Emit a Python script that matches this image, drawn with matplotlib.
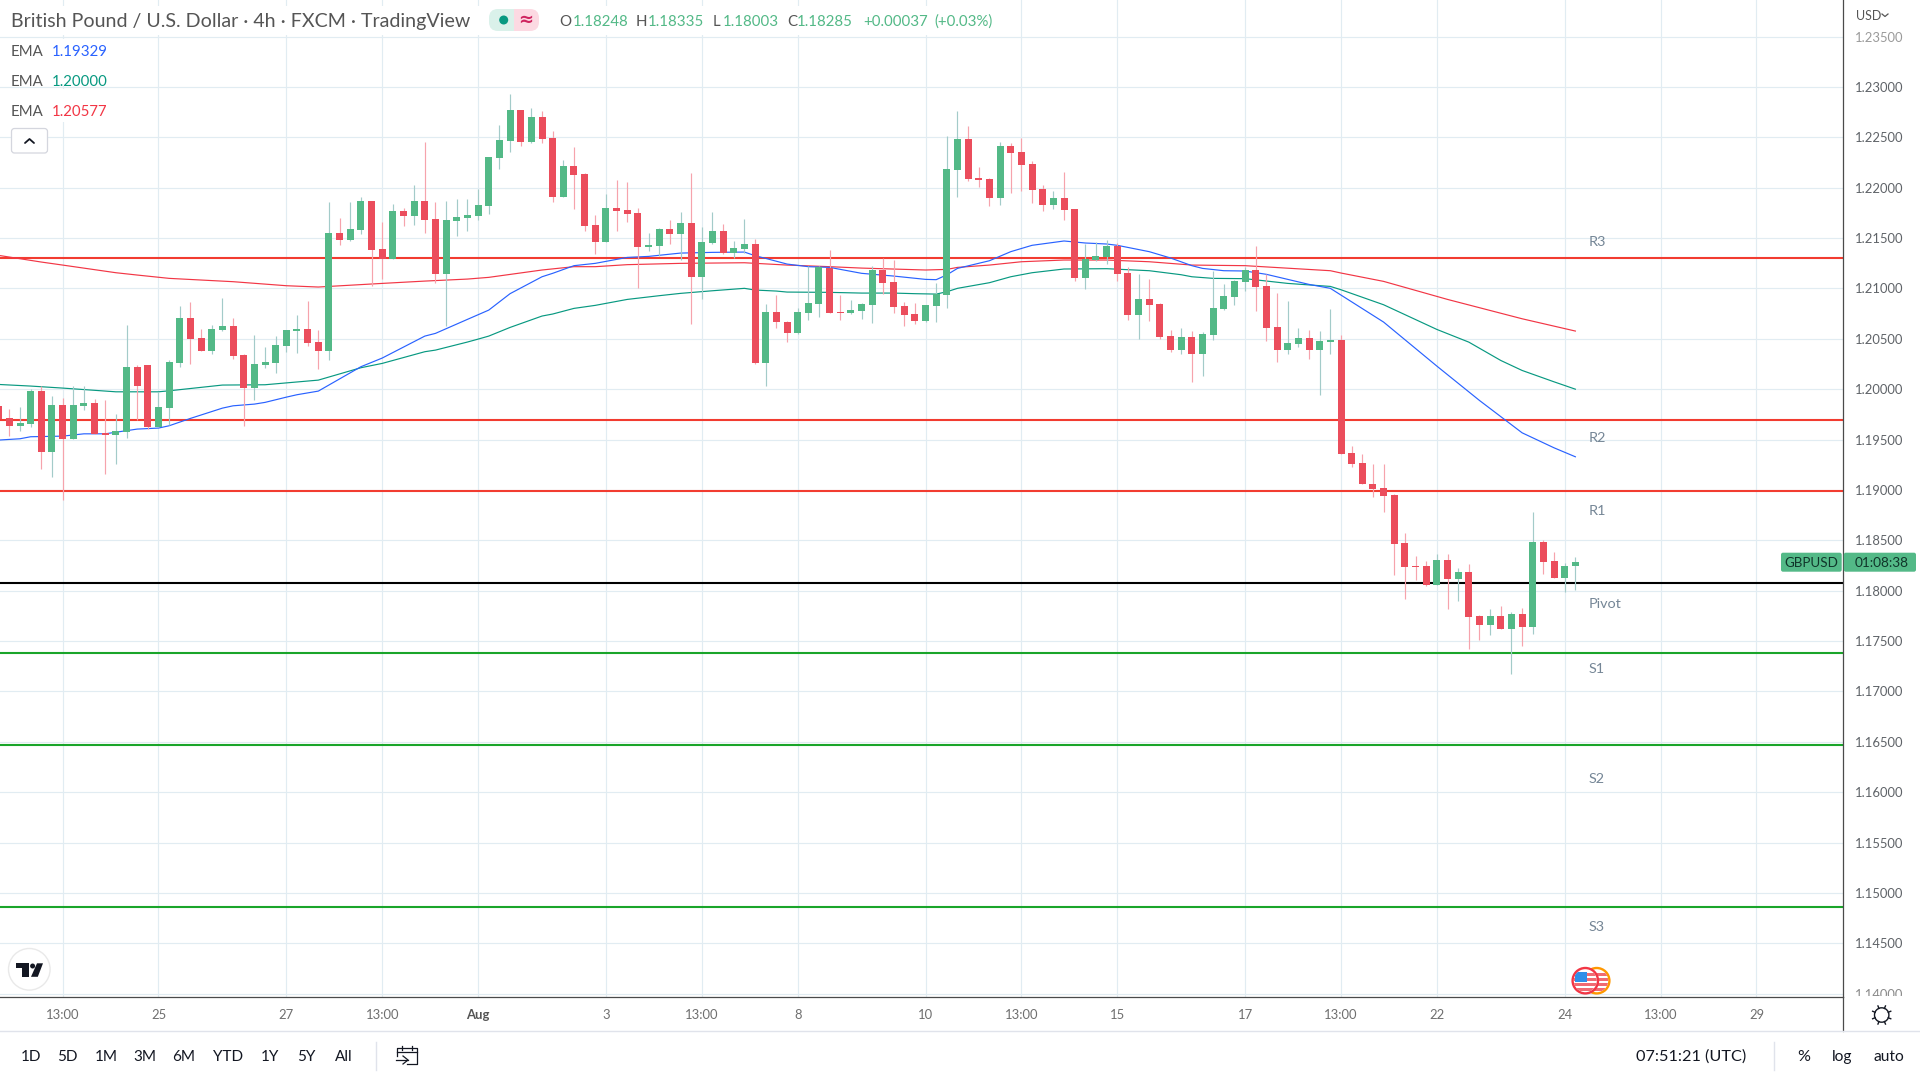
import numpy as np
import matplotlib
matplotlib.use("Agg")
import matplotlib.pyplot as plt
from matplotlib.patches import Rectangle, Circle, FancyBboxPatch, Polygon
from matplotlib.transforms import Bbox

plt.rcParams['font.family'] = ['Lato', 'DejaVu Sans']

opens = [1.19832,1.19713,1.19634,1.19653,1.19981,1.19375,1.19842,1.19504,1.19832,1.19862,1.19564,1.19544,1.19574,1.20219,1.20239,1.19624,1.19812,1.20259,1.20706,1.20507,
1.20378,1.20587,1.20627,1.20339,1.20011,1.20239,1.20259,1.20428,1.20577,1.20597,1.20468,1.20378,1.21550,1.21481,1.21580,1.21868,1.21391,1.21292,1.21768,1.21719,
1.21868,1.21689,1.21143,1.21669,1.21699,1.21719,1.21818,1.22295,1.22464,1.22771,1.22454,1.22702,1.22493,1.21908,1.22215,1.22136,1.21629,1.21461,1.21798,1.21778,
1.21749,1.21411,1.21421,1.21590,1.21540,1.21649,1.21113,1.21451,1.21570,1.21351,1.21391,1.21441,1.20259,1.20766,1.20666,1.20557,1.20756,1.20845,1.21206,1.20766,
1.20756,1.20775,1.20835,1.21183,1.21063,1.20825,1.20746,1.20676,1.20825,1.20934,1.22176,1.22483,1.22096,1.22086,1.21898,1.22414,1.22354,1.22235,1.21987,1.21828,
1.21898,1.21788,1.21103,1.21282,1.21312,1.21421,1.21153,1.20736,1.20895,1.20845,1.20527,1.20388,1.20517,1.20348,1.20537,1.20795,1.20914,1.21063,1.21183,1.21024,
1.20617,1.20388,1.20448,1.20507,1.20388,1.20468,1.20493,1.19371,1.19272,1.19063,1.19024,1.18954,1.18478,1.18249,1.18249,1.18061,1.18309,1.18120,1.18190,1.17753,
1.17663,1.17753,1.17624,1.17773,1.17643,1.18488,1.18299,1.18130,1.18248]
closes = [1.19700,1.19634,1.19663,1.19981,1.19375,1.19842,1.19504,1.19842,1.19862,1.19554,1.19544,1.19584,1.20219,1.20031,1.19624,1.19822,1.20269,1.20706,1.20497,1.20378,
1.20597,1.20627,1.20329,1.20011,1.20249,1.20269,1.20438,1.20587,1.20597,1.20458,1.20378,1.21550,1.21481,1.21590,1.21868,1.21381,1.21292,1.21768,1.21719,1.21868,
1.21679,1.21143,1.21679,1.21709,1.21729,1.21828,1.22305,1.22474,1.22771,1.22454,1.22702,1.22483,1.21908,1.22215,1.22126,1.21620,1.21461,1.21798,1.21768,1.21739,
1.21411,1.21431,1.21590,1.21540,1.21649,1.21113,1.21461,1.21570,1.21351,1.21401,1.21441,1.20259,1.20766,1.20666,1.20557,1.20766,1.20855,1.21212,1.20756,1.20756,
1.20785,1.20845,1.21183,1.21054,1.20815,1.20736,1.20676,1.20835,1.20944,1.22186,1.22483,1.22086,1.22076,1.21898,1.22414,1.22344,1.22225,1.21977,1.21828,1.21898,
1.21778,1.21103,1.21292,1.21322,1.21421,1.21143,1.20736,1.20895,1.20835,1.20517,1.20388,1.20517,1.20348,1.20547,1.20805,1.20924,1.21073,1.21183,1.21014,1.20607,
1.20388,1.20458,1.20507,1.20388,1.20478,1.20487,1.19361,1.19262,1.19054,1.19014,1.18944,1.18468,1.18239,1.18239,1.18061,1.18309,1.18120,1.18190,1.17743,1.17663,
1.17753,1.17624,1.17773,1.17643,1.18488,1.18289,1.18130,1.18249,1.18285]
highs = [1.19875,1.19802,1.19822,1.19998,1.20031,1.19931,1.19912,1.20031,1.20031,1.19902,1.19892,1.19753,1.20636,1.20239,1.20239,1.19971,1.20289,1.20825,1.20865,1.20597,
1.20636,1.20905,1.20706,1.20348,1.20537,1.20418,1.20527,1.20587,1.20736,1.20875,1.20587,1.21858,1.21699,1.21858,1.21908,1.21868,1.21659,1.21838,1.21798,1.22027,
1.22454,1.21858,1.21868,1.21888,1.21888,1.21987,1.22305,1.22622,1.22930,1.22771,1.22791,1.22761,1.22563,1.22275,1.22404,1.22146,1.21729,1.21937,1.22076,1.22056,
1.21798,1.21550,1.21600,1.21679,1.21759,1.22146,1.21610,1.21759,1.21639,1.21471,1.21689,1.21490,1.20845,1.20934,1.20676,1.20805,1.21222,1.21222,1.21381,1.20934,
1.20885,1.20855,1.21222,1.21302,1.21282,1.20865,1.20855,1.20835,1.21054,1.22513,1.22761,1.22613,1.22205,1.22096,1.22454,1.22444,1.22493,1.22265,1.22027,1.21967,
1.22156,1.21788,1.21441,1.21461,1.21481,1.21447,1.21212,1.21143,1.21093,1.20855,1.20587,1.20607,1.20577,1.20567,1.21173,1.21044,1.21083,1.21212,1.21421,1.21143,
1.20954,1.20875,1.20607,1.20587,1.20577,1.20795,1.20533,1.19441,1.19361,1.19262,1.19262,1.18964,1.18577,1.18348,1.18299,1.18368,1.18368,1.18229,1.18269,1.17763,
1.17822,1.17852,1.17793,1.17832,1.18785,1.18508,1.18388,1.18279,1.18335]
lows = [1.19660,1.19534,1.19584,1.19624,1.19207,1.19127,1.18902,1.19504,1.19792,1.19554,1.19157,1.19256,1.19514,1.19693,1.19604,1.19624,1.19643,1.20219,1.20249,1.20378,
1.20348,1.20577,1.20299,1.19634,1.19892,1.20209,1.20160,1.20368,1.20358,1.20428,1.20200,1.20289,1.21431,1.21471,1.21540,1.21024,1.21093,1.21292,1.21620,1.21629,
1.21550,1.21054,1.20627,1.21520,1.21570,1.21679,1.21739,1.22186,1.22354,1.22414,1.22444,1.22444,1.21858,1.21908,1.21788,1.21570,1.21341,1.21461,1.21570,1.21659,
1.21004,1.21371,1.21322,1.21441,1.21282,1.20646,1.20895,1.21441,1.21341,1.21302,1.21351,1.20249,1.20031,1.20607,1.20468,1.20547,1.20686,1.20716,1.20756,1.20686,
1.20746,1.20696,1.20656,1.20944,1.20756,1.20627,1.20646,1.20663,1.20666,1.20805,1.21908,1.22066,1.22007,1.21818,1.21828,1.21947,1.21967,1.21848,1.21768,1.21788,
1.21679,1.21073,1.20994,1.21272,1.21242,1.21073,1.20686,1.20497,1.20676,1.20497,1.20368,1.20348,1.20070,1.20130,1.20487,1.20785,1.20835,1.20974,1.20775,1.20478,
1.20269,1.20348,1.20418,1.20299,1.19941,1.20348,1.19361,1.19232,1.19054,1.18934,1.18785,1.18160,1.17922,1.18110,1.18051,1.18061,1.17822,1.17902,1.17425,1.17514,
1.17564,1.17624,1.17177,1.17455,1.17574,1.18170,1.18130,1.17991,1.18003]

ema_blue_bars = [0,2,3,6,8,10,13,15,16,18,21,22,24,25,27,28,30,34,36,40,41,44,46,48,51,52,54,56,59,61,64,67,70,71,72,74,76,78,81,84,87,88,89,90,93,95,97,100,102,104,105,108,110,112,113,115,117,119,123,125,126,130,135,139,143,146,148]
ema_blue = [1.19495,1.19508,1.19528,1.19534,1.19557,1.19557,1.19604,1.19614,1.19637,1.19710,1.19812,1.19835,1.19852,1.19869,1.19921,1.19945,1.19981,1.20223,1.20309,1.20527,1.20554,1.20693,1.20785,1.20948,1.21116,1.21150,1.21226,1.21249,1.21308,1.21318,1.21351,1.21358,1.21361,1.21325,1.21298,1.21242,1.21216,1.21209,1.21150,1.21123,1.21090,1.21087,1.21135,1.21199,1.21275,1.21365,1.21428,1.21471,1.21451,1.21441,1.21428,1.21365,1.21302,1.21226,1.21199,1.21176,1.21173,1.21140,1.21040,1.21001,1.20934,1.20666,1.20229,1.19888,1.19567,1.19418,1.19329]
ema_green_bars = [0,3,6,11,15,16,21,25,30,34,36,40,41,44,45,46,48,51,52,54,56,59,62,64,67,70,71,73,74,78,81,84,86,88,89,90,93,95,97,100,104,108,111,112,114,117,121,125,126,130,135,138,141,143,146,148]
ema_green = [1.20047,1.20031,1.20011,1.19974,1.19974,1.19984,1.20041,1.20044,1.20090,1.20213,1.20256,1.20372,1.20388,1.20468,1.20497,1.20527,1.20613,1.20726,1.20746,1.20802,1.20832,1.20891,1.20928,1.20951,1.20977,1.21001,1.20984,1.20974,1.20964,1.20961,1.20954,1.20954,1.20948,1.20944,1.20967,1.21001,1.21057,1.21116,1.21156,1.21193,1.21196,1.21176,1.21136,1.21116,1.21100,1.21097,1.21050,1.21020,1.20987,1.20838,1.20593,1.20467,1.20285,1.20186,1.20073,1.20000]
ema_red_bars = [0,4,6,11,13,16,22,27,30,36,40,44,46,51,54,56,59,64,70,74,78,81,87,89,90,93,96,100,104,108,112,117,125,126,130,136,143,148]
ema_red = [1.21328,1.21262,1.21232,1.21156,1.21133,1.21100,1.21067,1.21027,1.21014,1.21050,1.21073,1.21093,1.21110,1.21183,1.21216,1.21216,1.21236,1.21249,1.21255,1.21232,1.21216,1.21202,1.21183,1.21189,1.21209,1.21232,1.21265,1.21282,1.21282,1.21265,1.21232,1.21226,1.21176,1.21153,1.21070,1.20891,1.20699,1.20577]

pivot_names = ['R3','R2','R1','Pivot','S1','S2','S3']
pivot_levels = [1.21302,1.19693,1.18988,1.18080,1.17385,1.16464,1.14857]
pivot_colors = ['#f23c30','#f23c30','#f23c30','#000000','#1aa52a','#1aa52a','#1aa52a']
price_ticks = [1.235,1.23,1.225,1.22,1.215,1.21,1.205,1.20,1.195,1.19,1.185,1.18,1.175,1.17,1.165,1.16,1.155,1.15,1.145,1.14]
time_ticks = [6,15,27,36,45,57,66,75,87,96,105,117,126,135,147,156,165]
time_labels = ['13:00','25','27','13:00','Aug','3','13:00','8','10','13:00','15','17','13:00','22','24','13:00','29']

W, H = 1920, 1080
AXR, AXB = 1843.3, 997.3
fig = plt.figure(figsize=(19.2, 10.8), dpi=100, facecolor='white')
ax = fig.add_axes([0, 1-AXB/H, AXR/W, AXB/H])
ax.set_xlim(0.122, 173.15)
ax.set_ylim(1.13964, 1.23863)

GRID = '#e1ecf2'
ax.grid(True, color=GRID, lw=0.85, zorder=0)
ax.set_axisbelow(True)
for s in ('top','left'):
    ax.spines[s].set_visible(False)
for s in ('bottom','right'):
    ax.spines[s].set_color('#4a4a4a')
    ax.spines[s].set_linewidth(0.9)

ax.yaxis.tick_right()
ax.set_yticks(price_ticks)
ax.set_yticklabels([f'{p:.5f}' for p in price_ticks])
ax.tick_params(axis='y', length=0, pad=8.5, labelsize=9.4, labelcolor='#5f6368')
ax.set_xticks(time_ticks)
ax.set_xticklabels(time_labels)
ax.tick_params(axis='x', length=0, pad=8.6, labelsize=9.4, labelcolor='#6f6f6f')
clip = Bbox([[AXR, H-AXB+1], [W, H]])
for t in ax.get_yticklabels():
    t.set_clip_box(clip)
    t.set_clip_on(True)
ax.get_yticklabels()[0].set_color('#9a9a9a')
ax.get_yticklabels()[-1].set_color('#8a8a8a')
for t in ax.get_xticklabels():
    if t.get_text() == 'Aug':
        t.set_fontweight('bold')
        t.set_color('#555555')

# horizontal pivot levels
for lvl, col in zip(pivot_levels, pivot_colors):
    ax.axhline(lvl, color=col, lw=1.5, zorder=2)

# EMAs
ax.plot(ema_red_bars, ema_red, color='#f23645', lw=0.85, zorder=2.2)
ax.plot(ema_green_bars, ema_green, color='#089981', lw=0.85, zorder=2.2)
ax.plot(ema_blue_bars, ema_blue, color='#2962ff', lw=0.85, zorder=2.2)

# candles
x = np.arange(len(opens))
o, h, l, c = map(np.array, (opens, highs, lows, closes))
up = c >= o
ax.vlines(x[up], l[up], h[up], color='#a3cbc9', lw=0.85, zorder=3)
ax.vlines(x[~up], l[~up], h[~up], color='#f6a3ac', lw=0.85, zorder=3)
bw = 7/10.653
ax.bar(x[up], (c-o)[up], bottom=o[up], width=bw, color='#53b987', lw=0, zorder=3.2)
ax.bar(x[~up], (o-c)[~up], bottom=c[~up], width=bw, color='#eb4d5c', lw=0, zorder=3.2)

# pixel overlay for the surrounding interface
ov = fig.add_axes([0, 0, 1, 1], zorder=5)
ov.set_xlim(0, W); ov.set_ylim(H, 0); ov.axis('off')
ov.patch.set_visible(False)

TXT = '#555555'
DARK = '#131722'
GR = '#53b987'

ov.add_patch(Rectangle((7, 6), 1000, 29, fc='white', ec='none'))
ov.add_patch(Rectangle((7, 39), 109, 47, fc='white', ec='none'))
ov.add_patch(Rectangle((7, 89), 109, 33, fc='white', ec='none'))

ov.text(11, 22, 'British Pound / U.S. Dollar · 4h · FXCM · TradingView', fontsize=14.1, color=TXT, va='center', ha='left')
ov.add_patch(FancyBboxPatch((500, 9), 39, 22, boxstyle='round,pad=0,rounding_size=9', fc='#fcd9e2', ec='none'))
ov.add_patch(FancyBboxPatch((489, 9), 25, 22, boxstyle='round,pad=0,rounding_size=9', fc='#daf1ea', ec='none'))
ov.add_patch(Rectangle((500, 9), 14, 22, fc='#daf1ea', ec='none'))
ov.add_patch(Circle((503.7, 20), 4.5, fc='#089981', ec='none'))
ov.text(525.8, 20, '≈', fontsize=13, color='#cf2560', family='DejaVu Sans', weight='bold', ha='center', va='center')

for tx, s, col in [(559,'O',TXT),(572.5,'1.18248',GR),(636,'H',TXT),(648,'1.18335',GR),(713,'L',TXT),(723,'1.18003',GR),
                   (787,'C',TXT),(797,'1.18285',GR),(863,'+0.00037',GR),(934,'(+0.03%)',GR)]:
    ov.text(tx, 22, s, fontsize=10.8, color=col, va='center', ha='left')

for yy, val, col in [(51.5,'1.19329','#2962ff'),(81.5,'1.20000','#089981'),(111.5,'1.20577','#f23645')]:
    ov.text(11, yy, 'EMA', fontsize=10.8, color=TXT, va='center', ha='left')
    ov.text(51.6, yy, val, fontsize=10.8, color=col, va='center', ha='left')

ov.add_patch(FancyBboxPatch((11.5, 128.5), 36, 24.5, boxstyle='round,pad=0,rounding_size=3', fc='white', ec='#d4d6de', lw=0.9))
ov.plot([25, 29.5, 34], [143, 139, 143], color=DARK, lw=1.3, solid_capstyle='round')

# pivot names
for name, (tx, ty) in zip(pivot_names, [(1589,242),(1589,438),(1589,511),(1589,604),(1589,669),(1589,779),(1589,927)]):
    ov.text(tx, ty, name, fontsize=10.4, color='#758696', va='center', ha='left')

# price scale extras
ov.text(1855.7, 16.5, 'USD', fontsize=9, color=TXT, va='center', ha='left')
ov.plot([1882, 1885, 1888], [14, 16.5, 14], color=TXT, lw=0.9)
ov.add_patch(FancyBboxPatch((1781, 552.7), 60.7, 19, boxstyle='round,pad=0,rounding_size=2', fc=GR, ec='none'))
ov.add_patch(FancyBboxPatch((1843.8, 552.7), 72.2, 19, boxstyle='round,pad=0,rounding_size=2', fc=GR, ec='none'))
ov.text(1811, 563, 'GBPUSD', fontsize=9.6, color='#10352a', va='center', ha='center')
ov.text(1881.5, 563, '01:08:38', fontsize=9.8, color='#10352a', va='center', ha='center')

# frame lines
ov.plot([AXR, AXR], [997, 1031], color='#4a4a4a', lw=0.9)
ov.plot([0, W], [1031, 1031], color='#e0e3eb', lw=1.0)
ov.plot([375.7, 375.7], [1042, 1070], color='#e0e3eb', lw=1.0)
ov.plot([1774.3, 1774.3], [1042, 1070], color='#e0e3eb', lw=1.0)

# gear
gx, gy = 1881.7, 1015
ov.add_patch(Circle((gx, gy), 7.2, fc='white', ec=DARK, lw=1.0))
for a in np.deg2rad(np.arange(0, 360, 45)+22.5):
    ov.plot([gx+7.2*np.cos(a), gx+9.8*np.cos(a)], [gy+7.2*np.sin(a), gy+9.8*np.sin(a)], color=DARK, lw=1.0)

# bottom toolbar
for tx, s in zip([30.7,67.7,106,145,184,228,270,306.7,344], ['1D','5D','1M','3M','6M','YTD','1Y','5Y','All']):
    ov.text(tx, 1057, s, fontsize=11, color=DARK, va='center', ha='center')
ov.text(1636, 1057, '07:51:21 (UTC)', fontsize=11.7, color=DARK, va='center', ha='left')
ov.text(1804, 1057, '%', fontsize=11.6, color=DARK, va='center', ha='center')
ov.text(1842, 1057, 'log', fontsize=11.2, color=DARK, va='center', ha='center')
ov.text(1889, 1057, 'auto', fontsize=11.2, color=DARK, va='center', ha='center')

# calendar icon
ov.plot([397,397,416.5,416.5,407],[1056,1048,1048,1064,1064], color=DARK, lw=0.9)
ov.plot([397,416.5],[1052,1052], color=DARK, lw=0.9)
ov.plot([402,402],[1046,1050], color=DARK, lw=0.9)
ov.plot([411.5,411.5],[1046,1050], color=DARK, lw=0.9)
ov.plot([396,408],[1060,1060], color=DARK, lw=0.9)
ov.plot([403,408,403],[1056,1060,1064], color=DARK, lw=0.9)

# logo
ov.add_patch(Circle((29.3, 969.3), 20.8, fc='white', ec='#e9e9e9', lw=1.0))
ov.add_patch(Polygon([(16,963.3),(29.2,963.3),(29.2,976.8),(22.3,976.8),(22.3,968),(16,968)], fc=DARK, ec='none'))
ov.add_patch(Circle((32.6, 966), 2.5, fc=DARK, ec='none'))
ov.add_patch(Polygon([(37,963.3),(43,963.3),(37.8,976.8),(31,976.8)], fc=DARK, ec='none'))

# event flags
def flag(cx, cy, ring):
    base = Circle((cx, cy), 12.7, fc='white', ec=ring, lw=1.7)
    ov.add_patch(base)
    for yy in (-8, -3, 2.2, 7.4):
        st = Rectangle((cx-13, cy+yy), 26, 2.8, fc='#f06a72', ec='none')
        ov.add_patch(st)
        st.set_clip_path(Circle((cx, cy), 11.5, transform=ov.transData))
    return base
flag(1596.7, 980.7, '#ff9800')
flag(1585.3, 980.7, '#f23645')
cant = Rectangle((1574.5, 971.5), 12, 10, fc='#2f8fe8', ec='none')
ov.add_patch(cant)
cant.set_clip_path(Circle((1585.3, 980.7), 11.5, transform=ov.transData))

fig.savefig('out.png', dpi=100, facecolor='white')
